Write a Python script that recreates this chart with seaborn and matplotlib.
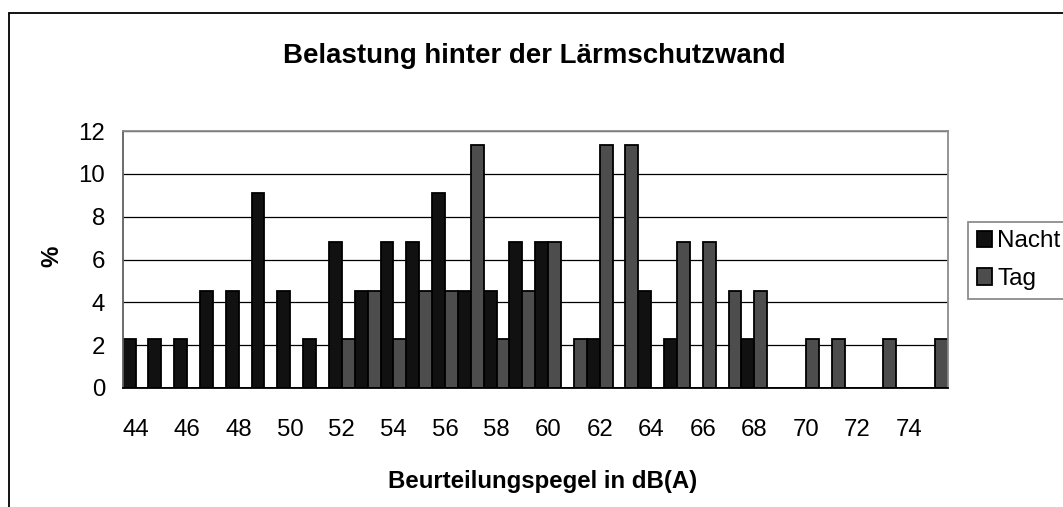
import pandas as pd
import numpy as np
import seaborn as sns
import matplotlib.pyplot as plt
from matplotlib.lines import Line2D

# Beurteilungspegel in dB(A), one category per dB
pegel = [44, 45, 46, 47, 48, 49, 50, 51, 52, 53, 54, 55, 56, 57, 58, 59,
         60, 61, 62, 63, 64, 65, 66, 67, 68, 69, 70, 71, 72, 73, 74, 75]
nacht = [2.27, 2.27, 2.27, 4.55, 4.55, 9.09, 4.55, 2.27, 6.82, 4.55, 6.82, 6.82, 9.09, 4.55, 4.55, 6.82,
         6.82, 0, 2.27, 0, 4.55, 2.27, 0, 0, 2.27, 0, 0, 0, 0, 0, 0, 0]
tag = [0, 0, 0, 0, 0, 0, 0, 0, 2.27, 4.55, 2.27, 4.55, 4.55, 11.36, 2.27, 4.55,
       6.82, 2.27, 11.36, 11.36, 0, 6.82, 6.82, 4.55, 4.55, 0, 2.27, 2.27, 0, 2.27, 0, 2.27]
tick_labels = ['44', '46', '48', '50', '52', '54', '56', '58', '60', '62', '64', '66', '68', '70', '72', '74']

df = pd.DataFrame({
    'Pegel': [str(p) for p in pegel] * 2,
    'Prozent': nacht + tag,
    'Zeit': ['Nacht'] * len(pegel) + ['Tag'] * len(pegel),
})

sns.set_style('white')
plt.rcParams['font.family'] = ['Liberation Sans', 'DejaVu Sans']
plt.rcParams['text.color'] = 'black'
plt.rcParams['xtick.color'] = 'black'
plt.rcParams['ytick.color'] = 'black'
plt.rcParams['axes.labelcolor'] = 'black'

W, H = 1063, 507
fig = plt.figure(figsize=(W / 100, H / 100), dpi=100)
ax = fig.add_axes([122.7 / W, 1 - 388 / H, (947.7 - 122.7) / W, (388 - 131) / H])

sns.barplot(data=df, x='Pegel', y='Prozent', hue='Zeit', order=[str(p) for p in pegel],
            hue_order=['Nacht', 'Tag'], palette={'Nacht': '#111111', 'Tag': '#4d4d4d'},
            width=1.0, gap=0, saturation=1, edgecolor='black', linewidth=1.3, ax=ax)

ax.set_xlim(-0.5, len(pegel) - 0.5)
ax.set_ylim(0, 12)
ax.set_yticks(range(0, 13, 2))
ax.set_xticks(range(0, len(pegel), 2))
ax.set_xticklabels(tick_labels)
ax.set_xticks(np.arange(-0.5, len(pegel), 1), minor=True)
ax.set_xlabel('')
ax.set_ylabel('')

ax.tick_params(axis='x', which='major', length=0, pad=22, labelsize=17.3, labelcolor='black')
ax.tick_params(axis='x', which='minor', length=4.5, width=1, color='black', direction='out')
ax.tick_params(axis='y', length=4.5, width=1, color='black', direction='out', pad=8,
               labelsize=17.3, labelcolor='black')

ax.set_axisbelow(True)
ax.yaxis.grid(True, color='black', linewidth=0.9)
for s in ['top', 'right']:
    ax.spines[s].set_color('#8c8c8c')
    ax.spines[s].set_linewidth(1.3)
ax.spines['left'].set_color('#606060')
ax.spines['left'].set_linewidth(1.3)
ax.spines['bottom'].set_color('black')
ax.spines['bottom'].set_linewidth(1.3)

handles, labels = ax.get_legend_handles_labels()
leg = ax.legend(handles, labels, loc='upper left', bbox_to_anchor=(968 / W, 1 - 221.7 / H),
                bbox_transform=fig.transFigure, fontsize=17.5, frameon=True, fancybox=False,
                edgecolor='#8c8c8c', framealpha=1, borderpad=0.35, borderaxespad=0,
                handlelength=0.65, handleheight=0.65, handletextpad=0.2, labelspacing=0.65)
leg.get_frame().set_linewidth(1.3)
for t in leg.get_texts():
    t.set_color('black')

fig.text(534 / W, 1 - 63.3 / H, 'Belastung hinter der Lärmschutzwand',
         ha='center', va='baseline', fontsize=19.9, fontweight='bold', color='black')
fig.text(543 / W, 1 - 488 / H, 'Beurteilungspegel in dB(A)',
         ha='center', va='baseline', fontsize=17.3, fontweight='bold', color='black')
fig.text(51.7 / W, 1 - 256.7 / H, '%', rotation=90, ha='center', va='center',
         fontsize=17.3, fontweight='bold', color='black')

# outer chart border (cropped at right and bottom)
fig.add_artist(Line2D([9 / W, 1], [1 - 13 / H, 1 - 13 / H], transform=fig.transFigure,
                      color='black', linewidth=1.3))
fig.add_artist(Line2D([9 / W, 9 / W], [1 - 13 / H, 0], transform=fig.transFigure,
                      color='black', linewidth=1.3))

fig.savefig('out.png', dpi=100)
